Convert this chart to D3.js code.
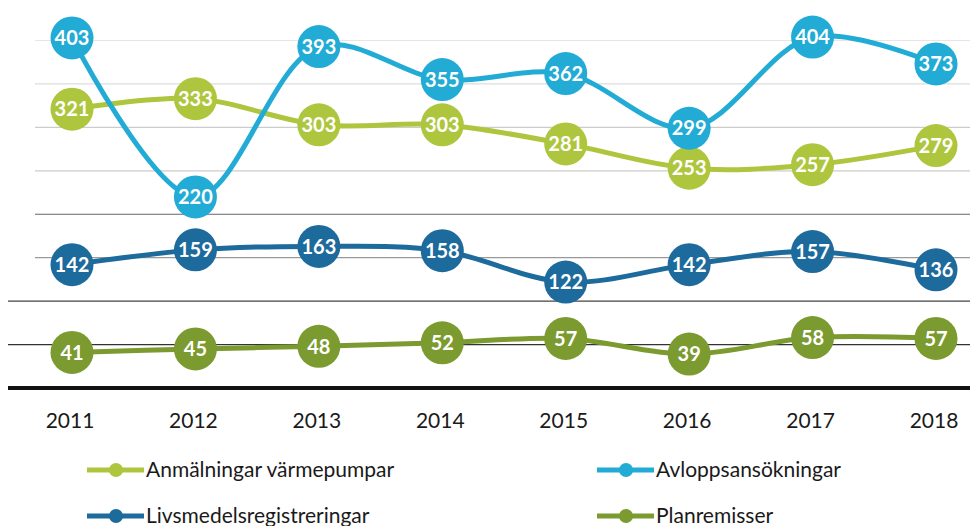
<!DOCTYPE html>
<html><head><meta charset="utf-8">
<script src="https://cdn.jsdelivr.net/npm/d3@7"></script>
<style>body{margin:0;background:#fff}svg{display:block}</style>
</head><body><svg id="c" width="977" height="526"></svg>
<script>
const years = ["2011","2012","2013","2014","2015","2016","2017","2018"];
const seriesNames = ["Anmälningar värmepumpar","Avloppsansökningar","Livsmedelsregistreringar","Planremisser"];
const varmepumpar = [321,333,303,303,281,253,257,279];
const avlopp = [403,220,393,355,362,299,404,373];
const livsmedel = [142,159,163,158,122,142,157,136];
const planremisser = [41,45,48,52,57,39,58,57];
const gridTicks = [50,100,150,200,250,300,350,400];

const colors = ["#aec63e","#22abd5","#1d6a9c","#7b9a2f"];
const series = [
  {name:seriesNames[0], values:varmepumpar, color:colors[0]},
  {name:seriesNames[1], values:avlopp, color:colors[1]},
  {name:seriesNames[2], values:livsmedel, color:colors[2]},
  {name:seriesNames[3], values:planremisser, color:colors[3]}
];
const svg = d3.select("#c");
const x = d3.scalePoint().domain(years).range([72,936]);
const y = d3.scaleLinear().domain([0,400]).range([388,40.5]);

// gridlines
const gridStyle = {50:["#333",8],100:["#444",8],150:["#999",35],200:["#666",35],250:["#ccc",35],300:["#ccc",35],350:["#ddd",35],400:["#e6e6e6",35]};
svg.append("g").selectAll("line").data(gridTicks).join("line")
  .attr("x1",d=>gridStyle[d][1]).attr("x2",970)
  .attr("y1",d=>y(d)).attr("y2",d=>y(d))
  .attr("stroke",d=>gridStyle[d][0]).attr("stroke-width",1.2);
// axis
svg.append("line").attr("x1",8).attr("x2",970).attr("y1",y(0)).attr("y2",y(0))
  .attr("stroke","#111").attr("stroke-width",4);
// x labels
svg.append("g").selectAll("text").data(years).join("text")
  .attr("x",d=>x(d)-2).attr("y",421).attr("dy","0.35em").attr("text-anchor","middle")
  .attr("font-family","Lato, 'Liberation Sans', sans-serif").attr("font-size",21).attr("fill","#1a1a1a")
  .text(d=>d);

const line = d3.line().x((d,i)=>x(years[i])).y(d=>y(d)).curve(d3.curveCatmullRom.alpha(0.5));
const order = [0,2,3,1];
order.forEach(k=>{
  const s = series[k];
  const g = svg.append("g");
  g.append("path").attr("d",line(s.values)).attr("fill","none").attr("stroke",s.color).attr("stroke-width",5);
  const pts = g.selectAll("g").data(s.values).join("g").attr("transform",(d,i)=>`translate(${x(years[i])},${y(d)})`);
  pts.append("circle").attr("r",21.5).attr("fill",s.color);
  pts.append("text").attr("text-anchor","middle").attr("dy","0.36em")
    .attr("font-family","Lato, 'Open Sans', sans-serif").attr("font-weight","bold").attr("font-size",20)
    .attr("fill","#fff").text(d=>d);
});

// legend
const legPos = [[87,470],[597,470],[87,516],[597,516]];
series.forEach((s,i)=>{
  const [lx,ly] = legPos[i];
  const g = svg.append("g").attr("transform",`translate(${lx},${ly})`);
  g.append("line").attr("x1",0).attr("x2",57).attr("stroke",s.color).attr("stroke-width",5);
  g.append("circle").attr("cx",29).attr("r",7).attr("fill",s.color);
  g.append("text").attr("x",59).attr("dy","0.35em").attr("font-family","Lato, 'Liberation Sans', sans-serif")
    .attr("font-size",21).attr("fill","#1a1a1a").text(s.name);
});
</script></body></html>
